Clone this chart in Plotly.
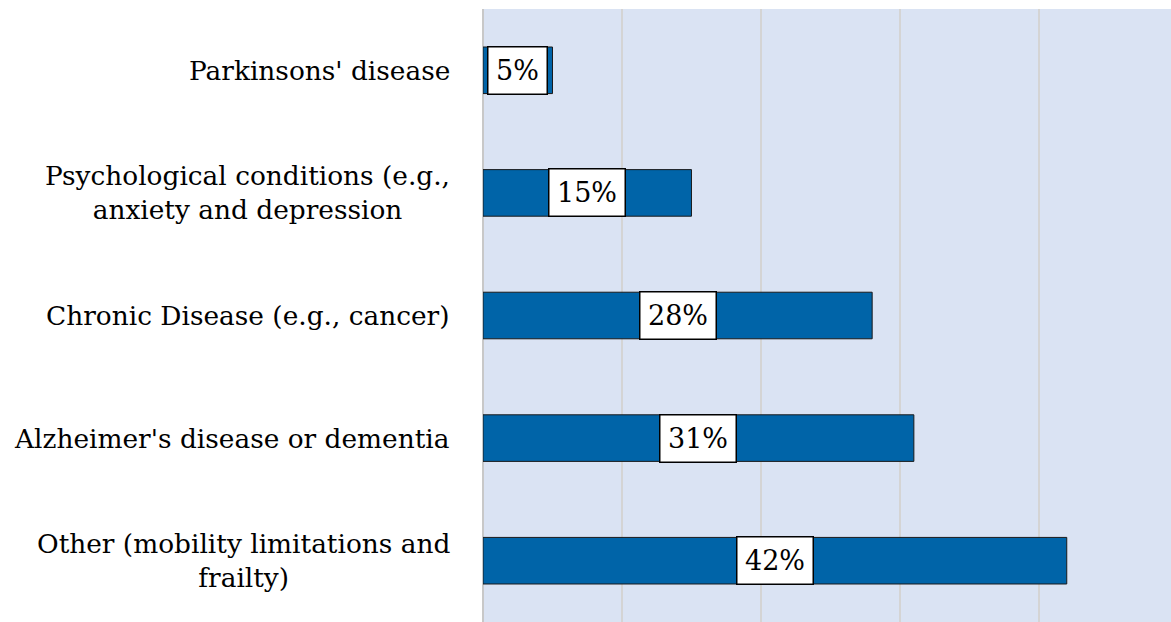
import plotly.graph_objects as go

categories = [
    "Other (mobility limitations and<br>frailty)",
    "Alzheimer's disease or dementia",
    "Chronic Disease (e.g., cancer)",
    "Psychological conditions (e.g.,<br>anxiety and depression",
    "Parkinsons' disease",
]
shares = [0.42, 0.31, 0.28, 0.15, 0.05]
share_labels = ["42%", "31%", "28%", "15%", "5%"]

FONT = "DejaVu Serif"

fig = go.Figure()
fig.add_trace(go.Bar(
    x=shares,
    y=categories,
    orientation="h",
    marker=dict(color="#0064a8", line=dict(color="#1a1a1a", width=1)),
    width=0.38,
    hoverinfo="skip",
))

# value boxes centred on each bar, category labels at the left
for cat, val, lab in zip(categories, shares, share_labels):
    fig.add_annotation(
        x=val / 2, y=cat, text=lab, showarrow=False,
        font=dict(family=FONT, size=27, color="black"),
        bgcolor="white", bordercolor="black", borderwidth=1.5, borderpad=2,
        width=20 + 17 * len(lab), height=42,
    )
    fig.add_annotation(
        x=0, xref="paper", y=cat, text=cat, showarrow=False,
        xanchor="right", xshift=-31, align="center",
        font=dict(family=FONT, size=26.4, color="black"),
    )

fig.update_layout(
    width=1171, height=622,
    margin=dict(l=483, r=0, t=9, b=0),
    plot_bgcolor="#dae3f3",
    paper_bgcolor="white",
    showlegend=False,
    xaxis=dict(range=[0, 0.495], dtick=0.1, showticklabels=False,
               gridcolor="#d4d4d4", gridwidth=1.5,
               zeroline=True, zerolinecolor="#c8c8c8", zerolinewidth=2),
    yaxis=dict(showticklabels=False, categoryorder="array",
               categoryarray=categories, showgrid=False),
)

# drop the default page margin so the figure fills the window exactly
fig.write_html("out.html",
               config={"displayModeBar": False},
               post_script="document.body.style.margin='0';"
                           "document.body.style.overflow='hidden';")
